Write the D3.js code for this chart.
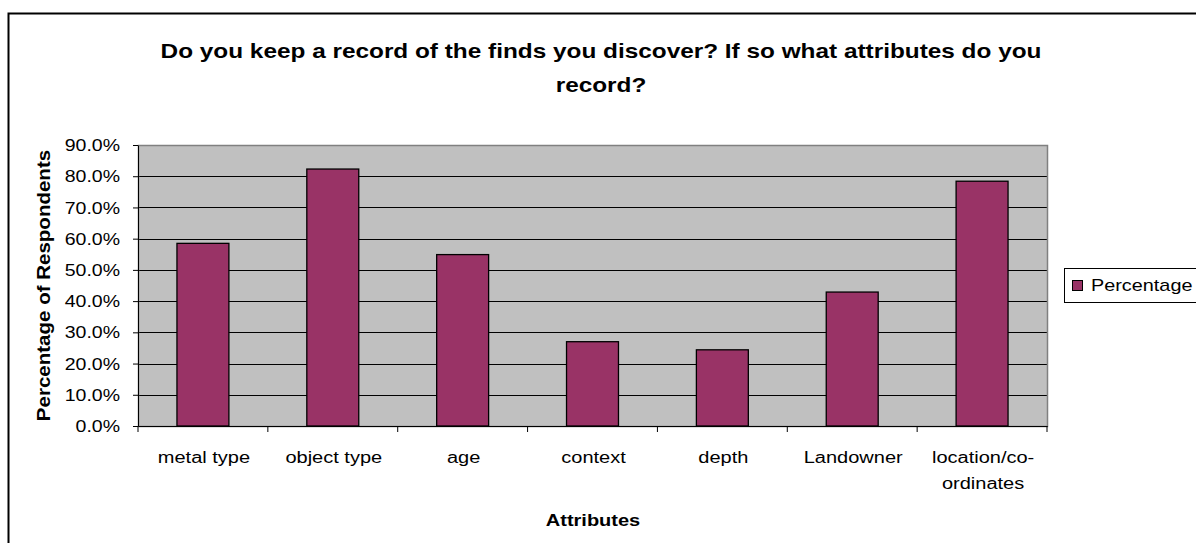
<!DOCTYPE html>
<html>
<head>
<meta charset="utf-8">
<script src="https://cdn.jsdelivr.net/npm/d3@7"></script>
<style>
  body { margin: 0; background: #fff; }
  svg text { font-family: "Liberation Sans", Arial, sans-serif; fill: #000; }
</style>
</head>
<body>
<div id="root"></div>
<script>
// values
const categories = ["metal type", "object type", "age", "context", "depth", "Landowner", "location/co-ordinates"];
const categoryLines = [["metal type"], ["object type"], ["age"], ["context"], ["depth"], ["Landowner"], ["location/co-", "ordinates"]];
const percentages = [0.585, 0.823, 0.549, 0.270, 0.244, 0.429, 0.784];
const yTicks = [0, 0.1, 0.2, 0.3, 0.4, 0.5, 0.6, 0.7, 0.8, 0.9];
const seriesName = "Percentage";
const titleLines = ["Do you keep a record of the finds you discover? If so what attributes do you", "record?"];

const width = 1196;
const height = 543;
const plot = { left: 138, right: 1047, top: 145, bottom: 426 };

const svg = d3.select("#root").append("svg")
  .attr("width", width).attr("height", height);

// outer chart frame (runs off the right and bottom of the picture)
svg.append("rect")
  .attr("x", 8.5).attr("y", 13.5)
  .attr("width", width + 20).attr("height", height + 20)
  .attr("fill", "#fff").attr("stroke", "#000").attr("stroke-width", 2);

// the picture's text is stretched sideways
function stretched(g, x, y, txt, sx) {
  return g.append("text")
    .attr("transform", `translate(${x},${y}) scale(${sx},1)`)
    .text(txt);
}

const xScale = d3.scaleBand()
  .domain(categories)
  .range([plot.left, plot.right])
  .paddingInner(0.6).paddingOuter(0.3);
const bandScale = d3.scaleBand().domain(categories).range([plot.left, plot.right]);

const yScale = d3.scaleLinear()
  .domain([0, 0.9])
  .range([plot.bottom, plot.top]);

// plot background
svg.append("rect")
  .attr("x", plot.left).attr("y", plot.top)
  .attr("width", plot.right - plot.left).attr("height", plot.bottom - plot.top)
  .attr("fill", "#c0c0c0");

// gridlines
svg.append("g").selectAll("line")
  .data(yTicks.slice(1))
  .join("line")
  .attr("x1", plot.left).attr("x2", plot.right)
  .attr("y1", d => Math.round(yScale(d)) + 0.5).attr("y2", d => Math.round(yScale(d)) + 0.5)
  .attr("stroke", "#000").attr("stroke-width", 1);

svg.append("rect")
  .attr("x", plot.left + 0.5).attr("y", plot.top + 0.5)
  .attr("width", plot.right - plot.left).attr("height", plot.bottom - plot.top)
  .attr("fill", "none").attr("stroke", "#808080").attr("stroke-width", 1.5);

// bars
svg.append("g").selectAll("rect")
  .data(percentages)
  .join("rect")
  .attr("x", (d, i) => xScale(categories[i]))
  .attr("y", d => yScale(d))
  .attr("width", xScale.bandwidth())
  .attr("height", d => yScale(0) - yScale(d))
  .attr("fill", "#993366")
  .attr("stroke", "#000").attr("stroke-width", 1.3);

// y axis
const yAxis = d3.axisLeft(yScale).tickValues(yTicks).tickFormat(d3.format(".1%")).tickSize(5).tickSizeOuter(0);
const gy = svg.append("g").attr("transform", `translate(${plot.left},0)`).call(yAxis);
gy.select(".domain").attr("stroke", "#000");
gy.selectAll(".tick line").attr("stroke", "#000");
gy.selectAll(".tick text").remove();
gy.selectAll(".tick").each(function (d) {
  stretched(d3.select(this), -18, 0, d3.format(".1%")(d), 1.22)
    .attr("text-anchor", "end").attr("dy", "0.35em").style("font-size", "16px");
});

// x axis
const xAxis = d3.axisBottom(bandScale).tickSize(0).tickFormat("");
const gx = svg.append("g").attr("transform", `translate(0,${plot.bottom})`).call(xAxis);
gx.select(".domain").attr("stroke", "#000");
gx.append("g").selectAll("line")
  .data(d3.range(categories.length + 1))
  .join("line")
  .attr("x1", i => plot.left + i * bandScale.step()).attr("x2", i => plot.left + i * bandScale.step())
  .attr("y1", 0).attr("y2", 6)
  .attr("stroke", "#000");

categoryLines.forEach((lines, i) => {
  const cx = bandScale(categories[i]) + bandScale.bandwidth() / 2;
  lines.forEach((ln, j) => {
    stretched(svg, cx + 1, 463 + j * 26, ln, 1.25)
      .attr("text-anchor", "middle").style("font-size", "16px");
  });
});

// axis titles
stretched(svg, 593, 526, "Attributes", 1.25)
  .attr("text-anchor", "middle").style("font-size", "16px").style("font-weight", "bold");

svg.append("text")
  .attr("transform", `translate(50,${(plot.top + plot.bottom) / 2}) rotate(-90) scale(1.08,1)`)
  .attr("text-anchor", "middle")
  .style("font-size", "19px").style("font-weight", "bold")
  .text("Percentage of Respondents");

// title
titleLines.forEach((ln, j) => {
  stretched(svg, 601, 58 + j * 34, ln, 1.16)
    .attr("text-anchor", "middle").style("font-size", "21px").style("font-weight", "bold");
});

// legend
const lg = svg.append("g").attr("transform", "translate(1064,268)");
lg.append("rect").attr("x", 0.5).attr("y", 0.5).attr("width", 150).attr("height", 34)
  .attr("fill", "#fff").attr("stroke", "#000");
lg.append("rect").attr("x", 8.5).attr("y", 12.5).attr("width", 10).attr("height", 10)
  .attr("fill", "#993366").attr("stroke", "#000");
stretched(lg, 27, 23, seriesName, 1.24).style("font-size", "16px");
</script>
</body>
</html>
